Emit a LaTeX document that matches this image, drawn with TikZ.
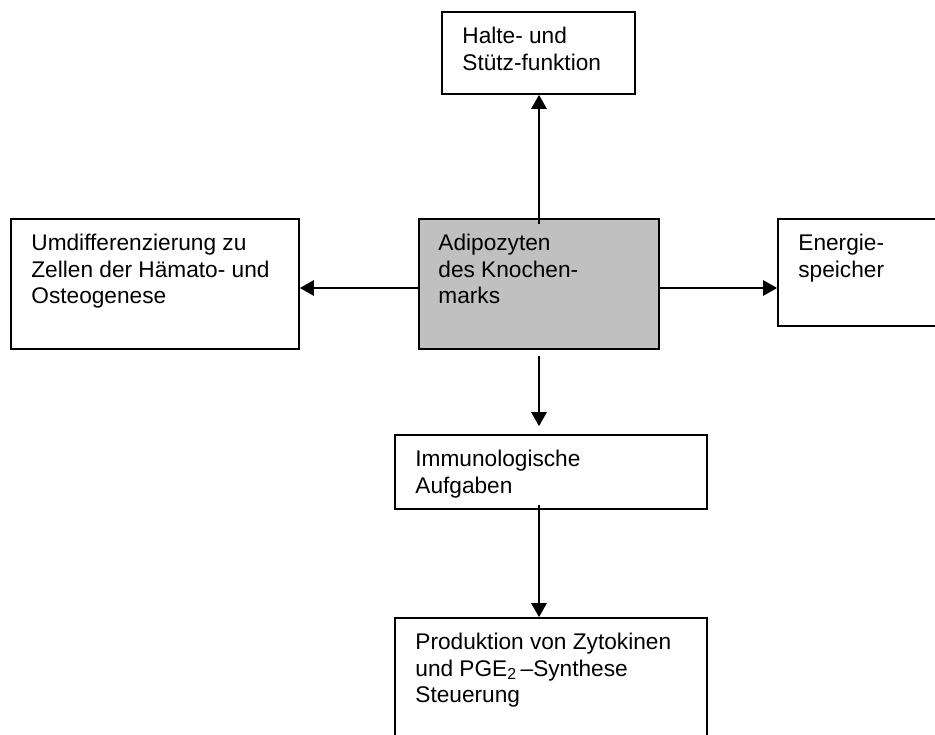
\documentclass[tikz,border=0pt]{standalone}
\usepackage{fontspec}
\setmainfont{Liberation Sans}
\usetikzlibrary{arrows.meta,calc,fit}
\definecolor{markgrau}{HTML}{C0C0C0}

\begin{document}
\begin{tikzpicture}[x=0.75pt,y=-0.75pt,
  box/.style={draw,line width=1.3pt,inner sep=0pt},
  txt/.style={anchor=north west,align=left,inner sep=0pt,font=\fontsize{17}{19.9}\selectfont},
  arr/.style={line width=1.3pt,-{Triangle[length=10.5pt,width=11.5pt]}}]
\useasboundingbox (0,0) rectangle (935,735);
% Kästen
\node[box,fill=markgrau,fit={(419,219) (659,349)}] (adipo) {};
\node[box,fit={(442,12) (635,94)}] (halte) {};
\node[box,fit={(11,219) (299,349)}] (umdiff) {};
\node[box,fit={(778,219) (955,326)}] (energie) {};
\node[box,fit={(395,435) (707,509)}] (immun) {};
\node[box,fit={(395,618) (707,760)}] (prod) {};
% Texte
\node[txt] (adipo-t) at ($(adipo.north west)+(20,16)$) {Adipozyten\\des Knochen-\\marks};
\node[txt] (halte-t) at ($(halte.north west)+(21,16)$) {Halte- und\\Stütz-funktion};
\node[txt] (umdiff-t) at ($(umdiff.north west)+(21,16)$) {Umdifferenzierung zu\\Zellen der Hämato- und\\Osteogenese};
\node[txt] (energie-t) at ($(energie.north west)+(21,16)$) {Energie-\\speicher};
\node[txt] (immun-t) at ($(immun.north west)+(21,16)$) {Immunologische\\Aufgaben};
\node[txt] (prod-t) at ($(prod.north west)+(21,16)$) {Produktion von Zytokinen\\und PGE\textsubscript{2}\,–Synthese\\Steuerung};
% Pfeile
\draw[arr,shorten <=-4.5pt] (adipo.north) -- (adipo.north |- halte.south);
\draw[arr] ([yshift=-3pt]adipo.west) -- ([yshift=-3pt]adipo.west -| umdiff.east);
\draw[arr] ([yshift=-3pt]adipo.east) -- ([yshift=-3pt]adipo.east -| energie.west);
\draw[arr,shorten <=4.5pt,shorten >=6pt] (adipo.south) -- (adipo.south |- immun.north);
\draw[arr,shorten <=-3.75pt] (adipo.south |- immun.south) -- (adipo.south |- prod.north);
\end{tikzpicture}
\end{document}
